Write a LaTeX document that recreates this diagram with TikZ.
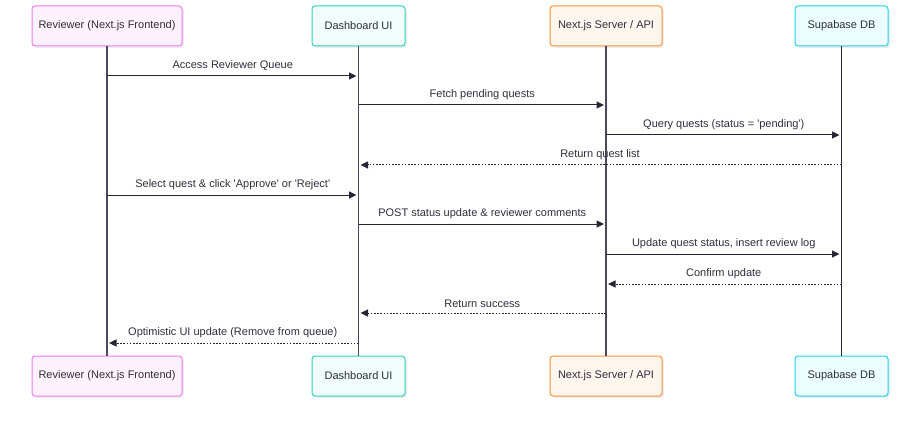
\documentclass[tikz,border=0pt]{standalone}
\usepackage{fontspec}
\setmainfont{Liberation Sans}[Ligatures=TeXOff]
\usetikzlibrary{arrows.meta,shadows}
\definecolor{txt}{HTML}{2E2E3C}
\definecolor{lline}{HTML}{4A4A5E}
\definecolor{arr}{HTML}{262636}
\definecolor{pinkB}{HTML}{F07CF0}\definecolor{pinkF}{HTML}{FDF2FD}
\definecolor{tealB}{HTML}{2DD4BF}\definecolor{tealF}{HTML}{F0FDFA}
\definecolor{oranB}{HTML}{FB923C}\definecolor{oranF}{HTML}{FFF7ED}
\definecolor{cyanB}{HTML}{22D3EE}\definecolor{cyanF}{HTML}{ECFEFF}
\tikzset{
  actor/.style={draw=#1B, fill=#1F, rounded corners=3pt, line width=1pt,
    minimum height=40pt, text=txt, font=\fontsize{11}{13}\selectfont,
    drop shadow={shadow xshift=2pt, shadow yshift=-2pt, fill=black!7, opacity=1}},
  lifeln/.style={draw=lline, line width=1.5pt},
  msg/.style={draw=arr, line width=1pt, -{Triangle[length=7.5pt,width=7pt]}, shorten >=2pt},
  ret/.style={msg, dash pattern=on 1.6pt off 1.6pt},
  lbl/.style={above=4pt, text=txt, font=\fontsize{11}{13}\selectfont, inner sep=1pt}
}
\begin{document}
\begin{tikzpicture}[x=1pt,y=-1pt]
\useasboundingbox (0,0) rectangle (920,422);
% top actors
\node[actor=pink, minimum width=150pt] (A) at (107,26) {Reviewer (Next.js Frontend)};
\node[actor=teal, minimum width=93pt] (B) at (358.5,26) {Dashboard UI};
\node[actor=oran, minimum width=112pt] (C) at (606,26) {Next.js Server / API};
\node[actor=cyan, minimum width=93pt] (D) at (841.5,26) {Supabase DB};
% bottom actors
\node[actor=pink, minimum width=150pt] (A2) at (107,376) {Reviewer (Next.js Frontend)};
\node[actor=teal, minimum width=93pt] (B2) at (358.5,376) {Dashboard UI};
\node[actor=oran, minimum width=112pt] (C2) at (606,376) {Next.js Server / API};
\node[actor=cyan, minimum width=93pt] (D2) at (841.5,376) {Supabase DB};
% lifelines
\draw[lifeln] (A.south) -- (A2.north);
\draw[lifeln] (B.south) -- (B2.north);
\draw[lifeln] (C.south) -- (C2.north);
\draw[lifeln, line width=1.1pt, draw=arr] (D.south) -- (D2.north);
% messages
\draw[msg] (A.south |- 0,76) -- node[lbl]{Access Reviewer Queue} (B.south |- 0,76);
\draw[msg] (B.south |- 0,105) -- node[lbl]{Fetch pending quests} (C.south |- 0,105);
\draw[msg] (C.south |- 0,135) -- node[lbl]{Query quests (status = 'pending')} (D.south |- 0,135);
\draw[ret] (D.south |- 0,165) -- node[lbl]{Return quest list} (B.south |- 0,165);
\draw[msg] (A.south |- 0,195) -- node[lbl]{Select quest \& click 'Approve' or 'Reject'} (B.south |- 0,195);
\draw[msg] (B.south |- 0,224) -- node[lbl]{POST status update \& reviewer comments} (C.south |- 0,224);
\draw[msg] (C.south |- 0,254) -- node[lbl]{Update quest status, insert review log} (D.south |- 0,254);
\draw[ret] (D.south |- 0,284) -- node[lbl]{Confirm update} (C.south |- 0,284);
\draw[ret] (C.south |- 0,313) -- node[lbl]{Return success} (B.south |- 0,313);
\draw[ret] (B.south |- 0,343) -- node[lbl]{Optimistic UI update (Remove from queue)} (A.south |- 0,343);
\end{tikzpicture}
\end{document}
